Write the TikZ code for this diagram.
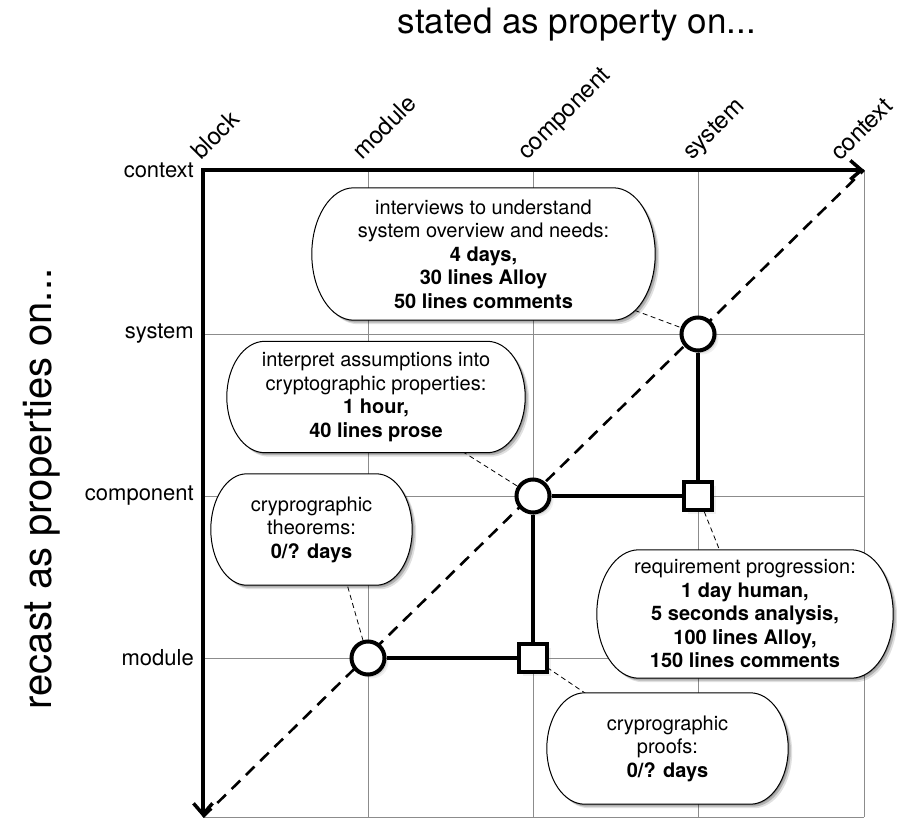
\documentclass[tikz,border=0pt]{standalone}
\usepackage{fontspec}
\setmainfont{TeX Gyre Heros}
\usetikzlibrary{arrows.meta,shadows}

\pgfdeclarelayer{back}
\pgfdeclarelayer{mid}
\pgfsetlayers{back,mid,main}

% outline with elliptic ends around a text node: #1 node, #2 horizontal radius, #3 half height
\newcommand\pilloutline[3]{%
  \path[pill] ([xshift=#2]#1.north west) -- ([xshift=-#2]#1.north east)
    .. controls ([xshift=-0.448*#2]#1.north east) and ([yshift=0.552*#3]#1.east) .. (#1.east)
    .. controls ([yshift=-0.552*#3]#1.east) and ([xshift=-0.448*#2]#1.south east) .. ([xshift=-#2]#1.south east)
    -- ([xshift=#2]#1.south west)
    .. controls ([xshift=0.448*#2]#1.south west) and ([yshift=-0.552*#3]#1.west) .. (#1.west)
    .. controls ([yshift=0.552*#3]#1.west) and ([xshift=0.448*#2]#1.north west) .. cycle;}

\begin{document}
\begin{tikzpicture}[x=1pt,y=-1pt,
  softshadow/.style={
    drop shadow={shadow xshift=4pt,shadow yshift=-4pt,opacity=.12},
    drop shadow={shadow xshift=2.5pt,shadow yshift=-2.5pt,opacity=.22},
    drop shadow={shadow xshift=1pt,shadow yshift=-1pt,opacity=.2}},
  pill/.style={draw,line width=1pt,fill=white,
    preaction={fill=black,opacity=.12,transform canvas={shift={(4pt,-4pt)}}},
    preaction={fill=black,opacity=.2,transform canvas={shift={(2.5pt,-2.5pt)}}},
    preaction={fill=black,opacity=.2,transform canvas={shift={(1pt,-1pt)}}}},
  note/.style={align=center,inner sep=0pt,font=\fontsize{20}{23.5}\selectfont},
  level/.style={draw,circle,line width=4pt,fill=white,minimum size=33pt,
    inner sep=0pt,softshadow},
  refine/.style={draw,rectangle,line width=4pt,fill=white,minimum size=27.5pt,
    inner sep=0pt,softshadow},
  gridline/.style={draw=black!45,line width=0.8pt},
  axis/.style={line width=3.5pt,line join=miter,
    {Straight Barb[length=11pt,width=19pt]}-{Straight Barb[length=11pt,width=19pt]}},
  link/.style={line width=3.5pt},
  leader/.style={line width=0.8pt,dash pattern=on 5pt off 3.5pt},
  diag/.style={line width=2.6pt,dash pattern=on 12pt off 8pt},
  rowlabel/.style={anchor=east,inner sep=0pt,font=\fontsize{22}{25}\selectfont},
  collabel/.style={anchor=base west,rotate=45,inner sep=0pt,font=\fontsize{24}{27}\selectfont},
]
\useasboundingbox (0,0) rectangle (897,818);

% corner points of the level grid
\coordinate (O)  at (203,170);
\coordinate (TR) at (864,170);
\coordinate (BL) at (203,817);

% titles
\node[font=\fontsize{35}{40}\selectfont,anchor=base] (title) at (577,34) {stated as property on...};
\node[font=\fontsize{40}{46}\selectfont,anchor=base,rotate=90] (ytitle) at (51,489) {recast as properties on...};

% row and column labels
\node[rowlabel] (rcontext)   at (194,170) {context};
\node[rowlabel] (rsystem)    at (194,334) {system};
\node[rowlabel] (rcomponent) at (194,496) {component};
\node[rowlabel] (rmodule)    at (194,658) {module};
\node[collabel] (cblock)     at (201,161) {block};
\node[collabel] (cmodule)    at (362,161) {module};
\node[collabel] (ccomponent) at (527,161) {component};
\node[collabel] (csystem)    at (692,161) {system};
\node[collabel] (ccontext)   at (840,162) {context};

% grid and diagonal
\begin{pgfonlayer}{back}
\foreach \x in {368,533,698,864} \draw[gridline] (\x,170) -- (\x,817);
\foreach \y in {334,496,658,817} \draw[gridline] (203,\y) -- (864,\y);
\draw[diag] (BL) -- (TR);
\end{pgfonlayer}

% axes
\draw[axis] (TR) -- (O) -- (BL);

% notes
\node[note,minimum width=343pt,minimum height=132pt] (b1) at (483.5,254)
  {interviews to understand\\system overview and needs:\\
   \textbf{4 days,}\\\textbf{30 lines Alloy}\\\textbf{50 lines comments}};
\node[note,minimum width=298pt,minimum height=111pt] (b2) at (376,397)
  {interpret assumptions into\\cryptographic properties:\\
   \textbf{1 hour,}\\\textbf{40 lines prose}};
\node[note,minimum width=201pt,minimum height=111pt] (b3) at (311.5,529.5)
  {cryprographic\\theorems:\\\textbf{0/? days}};
\node[note,minimum width=296pt,minimum height=128pt] (b4) at (745,614)
  {requirement progression:\\\textbf{1 day human,}\\\textbf{5 seconds analysis,}\\
   \textbf{100 lines Alloy,}\\\textbf{150 lines comments}};
\node[note,minimum width=241pt,minimum height=111pt] (b5) at (667.5,748.5)
  {cryprographic\\proofs:\\\textbf{0/? days}};

\begin{pgfonlayer}{mid}
\pilloutline{b1}{42pt}{66pt}
\pilloutline{b2}{38pt}{55.5pt}
\pilloutline{b3}{36pt}{55.5pt}
\pilloutline{b4}{42pt}{64pt}
\pilloutline{b5}{38pt}{55.5pt}
\end{pgfonlayer}

% refinement steps
\node[level]  (c1) at (698,334) {};
\node[refine] (s1) at (698,496) {};
\node[level]  (c2) at (533,496) {};
\node[refine] (s2) at (533,658) {};
\node[level]  (c3) at (368,658) {};

\draw[link] (c1) -- (s1);
\draw[link] (s1) -- (c2);
\draw[link] (c2) -- (s2);
\draw[link] (s2) -- (c3);

% leaders from notes to steps
\begin{pgfonlayer}{back}
  \draw[leader] (b1.center) -- (c1.center);
  \draw[leader] (b2.center) -- (c2.center);
  \draw[leader] ([xshift=20pt]b3.center) -- (c3.center);
  \draw[leader] (s1.center) -- (b4.center);
  \draw[leader] (s2.center) -- (b5.center);
\end{pgfonlayer}
\end{tikzpicture}
\end{document}
